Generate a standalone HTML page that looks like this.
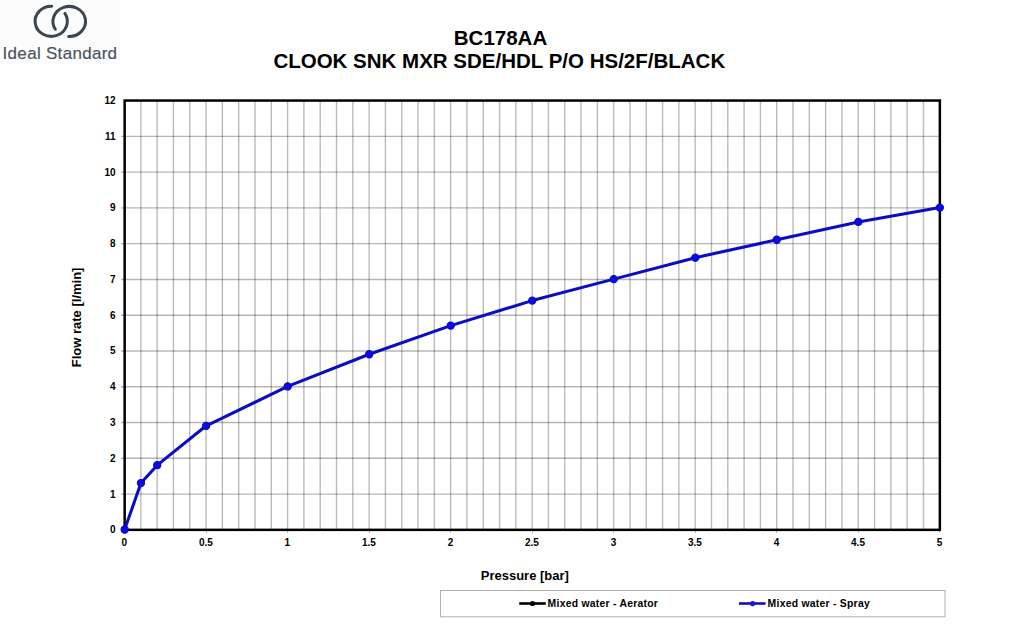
<!DOCTYPE html>
<html><head><meta charset="utf-8"><title>BC178AA flow rate</title>
<style>
html,body{margin:0;padding:0;background:#fff;}
body{width:1015px;height:631px;overflow:hidden;font-family:"Liberation Sans", sans-serif;}
svg{display:block;}
</style></head><body>
<svg width="1015" height="631" viewBox="0 0 1015 631" font-family="'Liberation Sans', sans-serif">
<rect x="0" y="0" width="1015" height="631" fill="#ffffff"/>
<rect x="0" y="0" width="120" height="64" fill="#fcfcfc"/>
<g fill="none" stroke="#3c4650" stroke-width="3" stroke-linecap="round">
<path d="M 51.76 6.31 A 16.1 15.0 0 1 0 64.90 13.42"/>
<path d="M 68.68 36.44 A 16.3 15.0 0 1 0 55.34 29.27"/>
</g>
<text x="2.6" y="58.8" font-size="17" fill="#4a535c" stroke="#4a535c" stroke-width="0.15" letter-spacing="0.3">Ideal Standard</text>
<g font-weight="bold" font-size="20.5" fill="#000" text-anchor="middle">
<text x="500.5" y="44.6">BC178AA</text>
<text x="499.3" y="68.2">CLOOK SNK MXR SDE/HDL P/O HS/2F/BLACK</text>
</g>
<line x1="140.85" y1="101" x2="140.85" y2="529" stroke="#000" stroke-opacity="0.27" stroke-width="1.4"/>
<line x1="157.16" y1="101" x2="157.16" y2="529" stroke="#000" stroke-opacity="0.27" stroke-width="1.4"/>
<line x1="173.46" y1="101" x2="173.46" y2="529" stroke="#000" stroke-opacity="0.27" stroke-width="1.4"/>
<line x1="189.77" y1="101" x2="189.77" y2="529" stroke="#000" stroke-opacity="0.27" stroke-width="1.4"/>
<line x1="206.07" y1="101" x2="206.07" y2="529" stroke="#000" stroke-opacity="0.27" stroke-width="1.4"/>
<line x1="222.37" y1="101" x2="222.37" y2="529" stroke="#000" stroke-opacity="0.27" stroke-width="1.4"/>
<line x1="238.68" y1="101" x2="238.68" y2="529" stroke="#000" stroke-opacity="0.27" stroke-width="1.4"/>
<line x1="254.98" y1="101" x2="254.98" y2="529" stroke="#000" stroke-opacity="0.27" stroke-width="1.4"/>
<line x1="271.29" y1="101" x2="271.29" y2="529" stroke="#000" stroke-opacity="0.27" stroke-width="1.4"/>
<line x1="287.59" y1="101" x2="287.59" y2="529" stroke="#000" stroke-opacity="0.27" stroke-width="1.4"/>
<line x1="303.89" y1="101" x2="303.89" y2="529" stroke="#000" stroke-opacity="0.27" stroke-width="1.4"/>
<line x1="320.20" y1="101" x2="320.20" y2="529" stroke="#000" stroke-opacity="0.27" stroke-width="1.4"/>
<line x1="336.50" y1="101" x2="336.50" y2="529" stroke="#000" stroke-opacity="0.27" stroke-width="1.4"/>
<line x1="352.81" y1="101" x2="352.81" y2="529" stroke="#000" stroke-opacity="0.27" stroke-width="1.4"/>
<line x1="369.11" y1="101" x2="369.11" y2="529" stroke="#000" stroke-opacity="0.27" stroke-width="1.4"/>
<line x1="385.41" y1="101" x2="385.41" y2="529" stroke="#000" stroke-opacity="0.27" stroke-width="1.4"/>
<line x1="401.72" y1="101" x2="401.72" y2="529" stroke="#000" stroke-opacity="0.27" stroke-width="1.4"/>
<line x1="418.02" y1="101" x2="418.02" y2="529" stroke="#000" stroke-opacity="0.27" stroke-width="1.4"/>
<line x1="434.33" y1="101" x2="434.33" y2="529" stroke="#000" stroke-opacity="0.27" stroke-width="1.4"/>
<line x1="450.63" y1="101" x2="450.63" y2="529" stroke="#000" stroke-opacity="0.27" stroke-width="1.4"/>
<line x1="466.93" y1="101" x2="466.93" y2="529" stroke="#000" stroke-opacity="0.27" stroke-width="1.4"/>
<line x1="483.24" y1="101" x2="483.24" y2="529" stroke="#000" stroke-opacity="0.27" stroke-width="1.4"/>
<line x1="499.54" y1="101" x2="499.54" y2="529" stroke="#000" stroke-opacity="0.27" stroke-width="1.4"/>
<line x1="515.85" y1="101" x2="515.85" y2="529" stroke="#000" stroke-opacity="0.27" stroke-width="1.4"/>
<line x1="532.15" y1="101" x2="532.15" y2="529" stroke="#000" stroke-opacity="0.27" stroke-width="1.4"/>
<line x1="548.45" y1="101" x2="548.45" y2="529" stroke="#000" stroke-opacity="0.27" stroke-width="1.4"/>
<line x1="564.76" y1="101" x2="564.76" y2="529" stroke="#000" stroke-opacity="0.27" stroke-width="1.4"/>
<line x1="581.06" y1="101" x2="581.06" y2="529" stroke="#000" stroke-opacity="0.27" stroke-width="1.4"/>
<line x1="597.37" y1="101" x2="597.37" y2="529" stroke="#000" stroke-opacity="0.27" stroke-width="1.4"/>
<line x1="613.67" y1="101" x2="613.67" y2="529" stroke="#000" stroke-opacity="0.27" stroke-width="1.4"/>
<line x1="629.97" y1="101" x2="629.97" y2="529" stroke="#000" stroke-opacity="0.27" stroke-width="1.4"/>
<line x1="646.28" y1="101" x2="646.28" y2="529" stroke="#000" stroke-opacity="0.27" stroke-width="1.4"/>
<line x1="662.58" y1="101" x2="662.58" y2="529" stroke="#000" stroke-opacity="0.27" stroke-width="1.4"/>
<line x1="678.89" y1="101" x2="678.89" y2="529" stroke="#000" stroke-opacity="0.27" stroke-width="1.4"/>
<line x1="695.19" y1="101" x2="695.19" y2="529" stroke="#000" stroke-opacity="0.27" stroke-width="1.4"/>
<line x1="711.49" y1="101" x2="711.49" y2="529" stroke="#000" stroke-opacity="0.27" stroke-width="1.4"/>
<line x1="727.80" y1="101" x2="727.80" y2="529" stroke="#000" stroke-opacity="0.27" stroke-width="1.4"/>
<line x1="744.10" y1="101" x2="744.10" y2="529" stroke="#000" stroke-opacity="0.27" stroke-width="1.4"/>
<line x1="760.41" y1="101" x2="760.41" y2="529" stroke="#000" stroke-opacity="0.27" stroke-width="1.4"/>
<line x1="776.71" y1="101" x2="776.71" y2="529" stroke="#000" stroke-opacity="0.27" stroke-width="1.4"/>
<line x1="793.01" y1="101" x2="793.01" y2="529" stroke="#000" stroke-opacity="0.27" stroke-width="1.4"/>
<line x1="809.32" y1="101" x2="809.32" y2="529" stroke="#000" stroke-opacity="0.27" stroke-width="1.4"/>
<line x1="825.62" y1="101" x2="825.62" y2="529" stroke="#000" stroke-opacity="0.27" stroke-width="1.4"/>
<line x1="841.93" y1="101" x2="841.93" y2="529" stroke="#000" stroke-opacity="0.27" stroke-width="1.4"/>
<line x1="858.23" y1="101" x2="858.23" y2="529" stroke="#000" stroke-opacity="0.27" stroke-width="1.4"/>
<line x1="874.53" y1="101" x2="874.53" y2="529" stroke="#000" stroke-opacity="0.27" stroke-width="1.4"/>
<line x1="890.84" y1="101" x2="890.84" y2="529" stroke="#000" stroke-opacity="0.27" stroke-width="1.4"/>
<line x1="907.14" y1="101" x2="907.14" y2="529" stroke="#000" stroke-opacity="0.27" stroke-width="1.4"/>
<line x1="923.45" y1="101" x2="923.45" y2="529" stroke="#000" stroke-opacity="0.27" stroke-width="1.4"/>
<line x1="121" y1="494.08" x2="939" y2="494.08" stroke="#000" stroke-opacity="0.29" stroke-width="1.4"/>
<line x1="121" y1="458.30" x2="939" y2="458.30" stroke="#000" stroke-opacity="0.29" stroke-width="1.4"/>
<line x1="121" y1="422.53" x2="939" y2="422.53" stroke="#000" stroke-opacity="0.29" stroke-width="1.4"/>
<line x1="121" y1="386.75" x2="939" y2="386.75" stroke="#000" stroke-opacity="0.29" stroke-width="1.4"/>
<line x1="121" y1="350.98" x2="939" y2="350.98" stroke="#000" stroke-opacity="0.29" stroke-width="1.4"/>
<line x1="121" y1="315.20" x2="939" y2="315.20" stroke="#000" stroke-opacity="0.29" stroke-width="1.4"/>
<line x1="121" y1="279.43" x2="939" y2="279.43" stroke="#000" stroke-opacity="0.29" stroke-width="1.4"/>
<line x1="121" y1="243.65" x2="939" y2="243.65" stroke="#000" stroke-opacity="0.29" stroke-width="1.4"/>
<line x1="121" y1="207.88" x2="939" y2="207.88" stroke="#000" stroke-opacity="0.29" stroke-width="1.4"/>
<line x1="121" y1="172.10" x2="939" y2="172.10" stroke="#000" stroke-opacity="0.29" stroke-width="1.4"/>
<line x1="121" y1="136.33" x2="939" y2="136.33" stroke="#000" stroke-opacity="0.29" stroke-width="1.4"/>
<line x1="124.5" y1="530" x2="124.5" y2="532.8" stroke="#b0b0b0" stroke-width="1"/>
<line x1="206.5" y1="530" x2="206.5" y2="532.8" stroke="#b0b0b0" stroke-width="1"/>
<line x1="287.5" y1="530" x2="287.5" y2="532.8" stroke="#b0b0b0" stroke-width="1"/>
<line x1="369.5" y1="530" x2="369.5" y2="532.8" stroke="#b0b0b0" stroke-width="1"/>
<line x1="450.5" y1="530" x2="450.5" y2="532.8" stroke="#b0b0b0" stroke-width="1"/>
<line x1="532.5" y1="530" x2="532.5" y2="532.8" stroke="#b0b0b0" stroke-width="1"/>
<line x1="613.5" y1="530" x2="613.5" y2="532.8" stroke="#b0b0b0" stroke-width="1"/>
<line x1="695.5" y1="530" x2="695.5" y2="532.8" stroke="#b0b0b0" stroke-width="1"/>
<line x1="776.5" y1="530" x2="776.5" y2="532.8" stroke="#b0b0b0" stroke-width="1"/>
<line x1="858.5" y1="530" x2="858.5" y2="532.8" stroke="#b0b0b0" stroke-width="1"/>
<line x1="939.5" y1="530" x2="939.5" y2="532.8" stroke="#b0b0b0" stroke-width="1"/>
<rect x="124.65" y="100.55" width="815.20" height="429.30" fill="none" stroke="#000" stroke-width="2.5"/>
<g font-weight="bold" font-size="10" fill="#000">
<text x="115.5" y="533.30" text-anchor="end">0</text>
<text x="115.5" y="497.53" text-anchor="end">1</text>
<text x="115.5" y="461.75" text-anchor="end">2</text>
<text x="115.5" y="425.98" text-anchor="end">3</text>
<text x="115.5" y="390.20" text-anchor="end">4</text>
<text x="115.5" y="354.43" text-anchor="end">5</text>
<text x="115.5" y="318.65" text-anchor="end">6</text>
<text x="115.5" y="282.88" text-anchor="end">7</text>
<text x="115.5" y="247.10" text-anchor="end">8</text>
<text x="115.5" y="211.33" text-anchor="end">9</text>
<text x="115.5" y="175.55" text-anchor="end">10</text>
<text x="115.5" y="139.78" text-anchor="end">11</text>
<text x="115.5" y="104.00" text-anchor="end">12</text>
<text x="124.35" y="545.6" text-anchor="middle">0</text>
<text x="205.87" y="545.6" text-anchor="middle">0.5</text>
<text x="287.39" y="545.6" text-anchor="middle">1</text>
<text x="368.91" y="545.6" text-anchor="middle">1.5</text>
<text x="450.43" y="545.6" text-anchor="middle">2</text>
<text x="531.95" y="545.6" text-anchor="middle">2.5</text>
<text x="613.47" y="545.6" text-anchor="middle">3</text>
<text x="694.99" y="545.6" text-anchor="middle">3.5</text>
<text x="776.51" y="545.6" text-anchor="middle">4</text>
<text x="858.03" y="545.6" text-anchor="middle">4.5</text>
<text x="939.55" y="545.6" text-anchor="middle">5</text>
</g>
<text transform="translate(80.9,317.4) rotate(-90)" text-anchor="middle" font-weight="bold" font-size="13" fill="#000">Flow rate [l/min]</text>
<text x="524.8" y="580.1" text-anchor="middle" font-weight="bold" font-size="13" fill="#000">Pressure [bar]</text>
<polyline points="124.65,529.55 140.95,483.04 157.26,465.16 206.17,425.80 287.69,386.45 369.21,354.25 450.73,325.63 532.25,300.59 613.77,279.13 695.29,257.66 776.81,239.77 858.33,221.89 939.85,207.58" fill="none" stroke="#0c0cc4" stroke-width="3.05" stroke-linejoin="round"/>
<g fill="#0a0aee" stroke="#0a0ab0" stroke-width="1.1">
<circle cx="124.65" cy="529.55" r="3.6"/>
<circle cx="140.95" cy="483.04" r="3.6"/>
<circle cx="157.26" cy="465.16" r="3.6"/>
<circle cx="206.17" cy="425.80" r="3.6"/>
<circle cx="287.69" cy="386.45" r="3.6"/>
<circle cx="369.21" cy="354.25" r="3.6"/>
<circle cx="450.73" cy="325.63" r="3.6"/>
<circle cx="532.25" cy="300.59" r="3.6"/>
<circle cx="613.77" cy="279.13" r="3.6"/>
<circle cx="695.29" cy="257.66" r="3.6"/>
<circle cx="776.81" cy="239.77" r="3.6"/>
<circle cx="858.33" cy="221.89" r="3.6"/>
<circle cx="939.85" cy="207.58" r="3.6"/>
</g>
<rect x="440.5" y="590.5" width="504.5" height="26.3" fill="#fff" stroke="#b0b0b0" stroke-width="1"/>
<line x1="519.2" y1="603.5" x2="545.8" y2="603.5" stroke="#000" stroke-width="2.6"/>
<circle cx="532.5" cy="603.5" r="2.6" fill="#000"/>
<line x1="739" y1="603.5" x2="765.6" y2="603.5" stroke="#1010b8" stroke-width="2.6"/>
<circle cx="752.6" cy="603.6" r="2.7" fill="#1818d8"/>
<g font-weight="bold" font-size="10.4" fill="#000" letter-spacing="0.25">
<text x="547.6" y="606.8">Mixed water - Aerator</text>
<text x="767.6" y="606.8">Mixed water - Spray</text>
</g>
</svg>
</body></html>
